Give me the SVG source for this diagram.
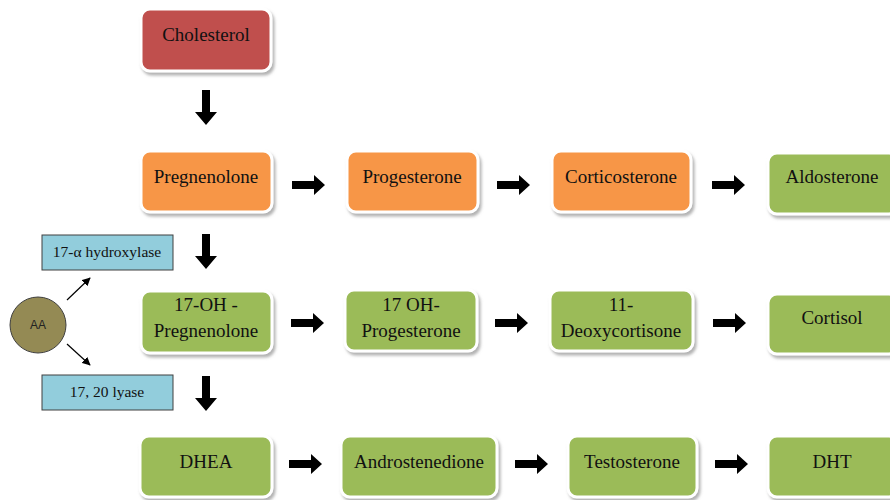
<svg xmlns="http://www.w3.org/2000/svg" width="890" height="500" viewBox="0 0 890 500">
<defs>
<filter id="sh" x="-10%" y="-10%" width="130%" height="140%">
<feDropShadow dx="2" dy="3" stdDeviation="1.5" flood-color="#7f7f7f" flood-opacity="0.6"/>
</filter>
<path id="ar" d="M0,-4 H22 V-10 L33,0 L22,10 V4 H0 Z"/>
<path id="da" d="M-4,0 H4 V22 H11 L0,35 L-11,22 H-4 Z"/>
<marker id="mk" viewBox="0 0 10 10" refX="9" refY="5" markerWidth="7" markerHeight="7" orient="auto">
<path d="M0,0 L10,5 L0,10 Z" fill="#000"/>
</marker>
</defs>
<style>
.box{stroke:#fff;stroke-width:3;filter:url(#sh)}
.red{fill:#C0504D}
.or{fill:#F79646}
.gr{fill:#9BBB59}
.bl{fill:#92CDDC;stroke:#404040;stroke-width:1}
.t{font-family:"Liberation Serif","Times New Roman",serif;font-size:19px;fill:#111;text-anchor:middle}
.ts{font-family:"Liberation Serif","Times New Roman",serif;font-size:15.5px;fill:#111;text-anchor:middle}
.aa{font-family:"Liberation Sans",Arial,sans-serif;font-size:12px;fill:#222;text-anchor:middle}
</style>
<rect width="890" height="500" fill="#fff"/>

<g id="cholesterol"><rect class="box red" x="141" y="9" width="130" height="62" rx="9"/><text class="t" x="206" y="41">Cholesterol</text></g>

<g id="pregnenolone"><rect class="box or" x="141" y="151" width="131" height="61" rx="9"/><text class="t" x="206" y="183">Pregnenolone</text></g>
<g id="progesterone"><rect class="box or" x="347" y="151" width="131" height="61" rx="9"/><text class="t" x="412" y="183">Progesterone</text></g>
<g id="corticosterone"><rect class="box or" x="552" y="151" width="139" height="61" rx="9"/><text class="t" x="621" y="183">Corticosterone</text></g>
<g id="aldosterone"><rect class="box gr" x="768" y="153" width="130" height="61" rx="9"/><text class="t" x="832" y="183">Aldosterone</text></g>

<g id="oh-pregnenolone"><rect class="box gr" x="141" y="291" width="131" height="62" rx="9"/><text class="t" x="206" y="311">17-OH -</text><text class="t" x="206" y="337">Pregnenolone</text></g>
<g id="oh-progesterone"><rect class="box gr" x="345" y="290" width="132" height="61" rx="9"/><text class="t" x="411" y="311">17 OH-</text><text class="t" x="411" y="337">Progesterone</text></g>
<g id="deoxycortisone"><rect class="box gr" x="550" y="290" width="143" height="61" rx="9"/><text class="t" x="621" y="311">11-</text><text class="t" x="621" y="337">Deoxycortisone</text></g>
<g id="cortisol"><rect class="box gr" x="768" y="294" width="130" height="60" rx="9"/><text class="t" x="832" y="324">Cortisol</text></g>

<g id="dhea"><rect class="box gr" x="140" y="436" width="132" height="61" rx="9"/><text class="t" x="206" y="468">DHEA</text></g>
<g id="androstenedione"><rect class="box gr" x="341" y="436" width="156" height="61" rx="9"/><text class="t" x="419" y="468">Androstenedione</text></g>
<g id="testosterone"><rect class="box gr" x="568" y="436" width="129" height="61" rx="9"/><text class="t" x="632" y="468">Testosterone</text></g>
<g id="dht"><rect class="box gr" x="768" y="436" width="130" height="61" rx="9"/><text class="t" x="832" y="468">DHT</text></g>

<g id="hydroxylase"><rect class="bl" x="42" y="235" width="131" height="35"/><text class="ts" x="107" y="257">17-α hydroxylase</text></g>
<g id="lyase"><rect class="bl" x="42" y="375" width="131" height="35"/><text class="ts" x="107" y="397">17, 20 lyase</text></g>
<g id="aa"><circle cx="38" cy="325" r="28" fill="#948A54" stroke="#3f3f3f" stroke-width="1"/><text class="aa" x="38" y="329">AA</text></g>

<g id="connectors" fill="#000">
<use href="#da" x="206" y="90"/>
<use href="#da" x="206" y="234"/>
<use href="#da" x="206" y="376"/>
<use href="#ar" x="292" y="185"/>
<use href="#ar" x="497" y="185"/>
<use href="#ar" x="712" y="185"/>
<use href="#ar" x="291" y="323"/>
<use href="#ar" x="495" y="323"/>
<use href="#ar" x="713" y="323"/>
<use href="#ar" x="289" y="464"/>
<use href="#ar" x="515" y="464"/>
<use href="#ar" x="715" y="464"/>
<line x1="67" y1="300" x2="90" y2="278" stroke="#000" stroke-width="1.2" marker-end="url(#mk)"/>
<line x1="67" y1="344" x2="90" y2="365" stroke="#000" stroke-width="1.2" marker-end="url(#mk)"/>
</g>
</svg>
